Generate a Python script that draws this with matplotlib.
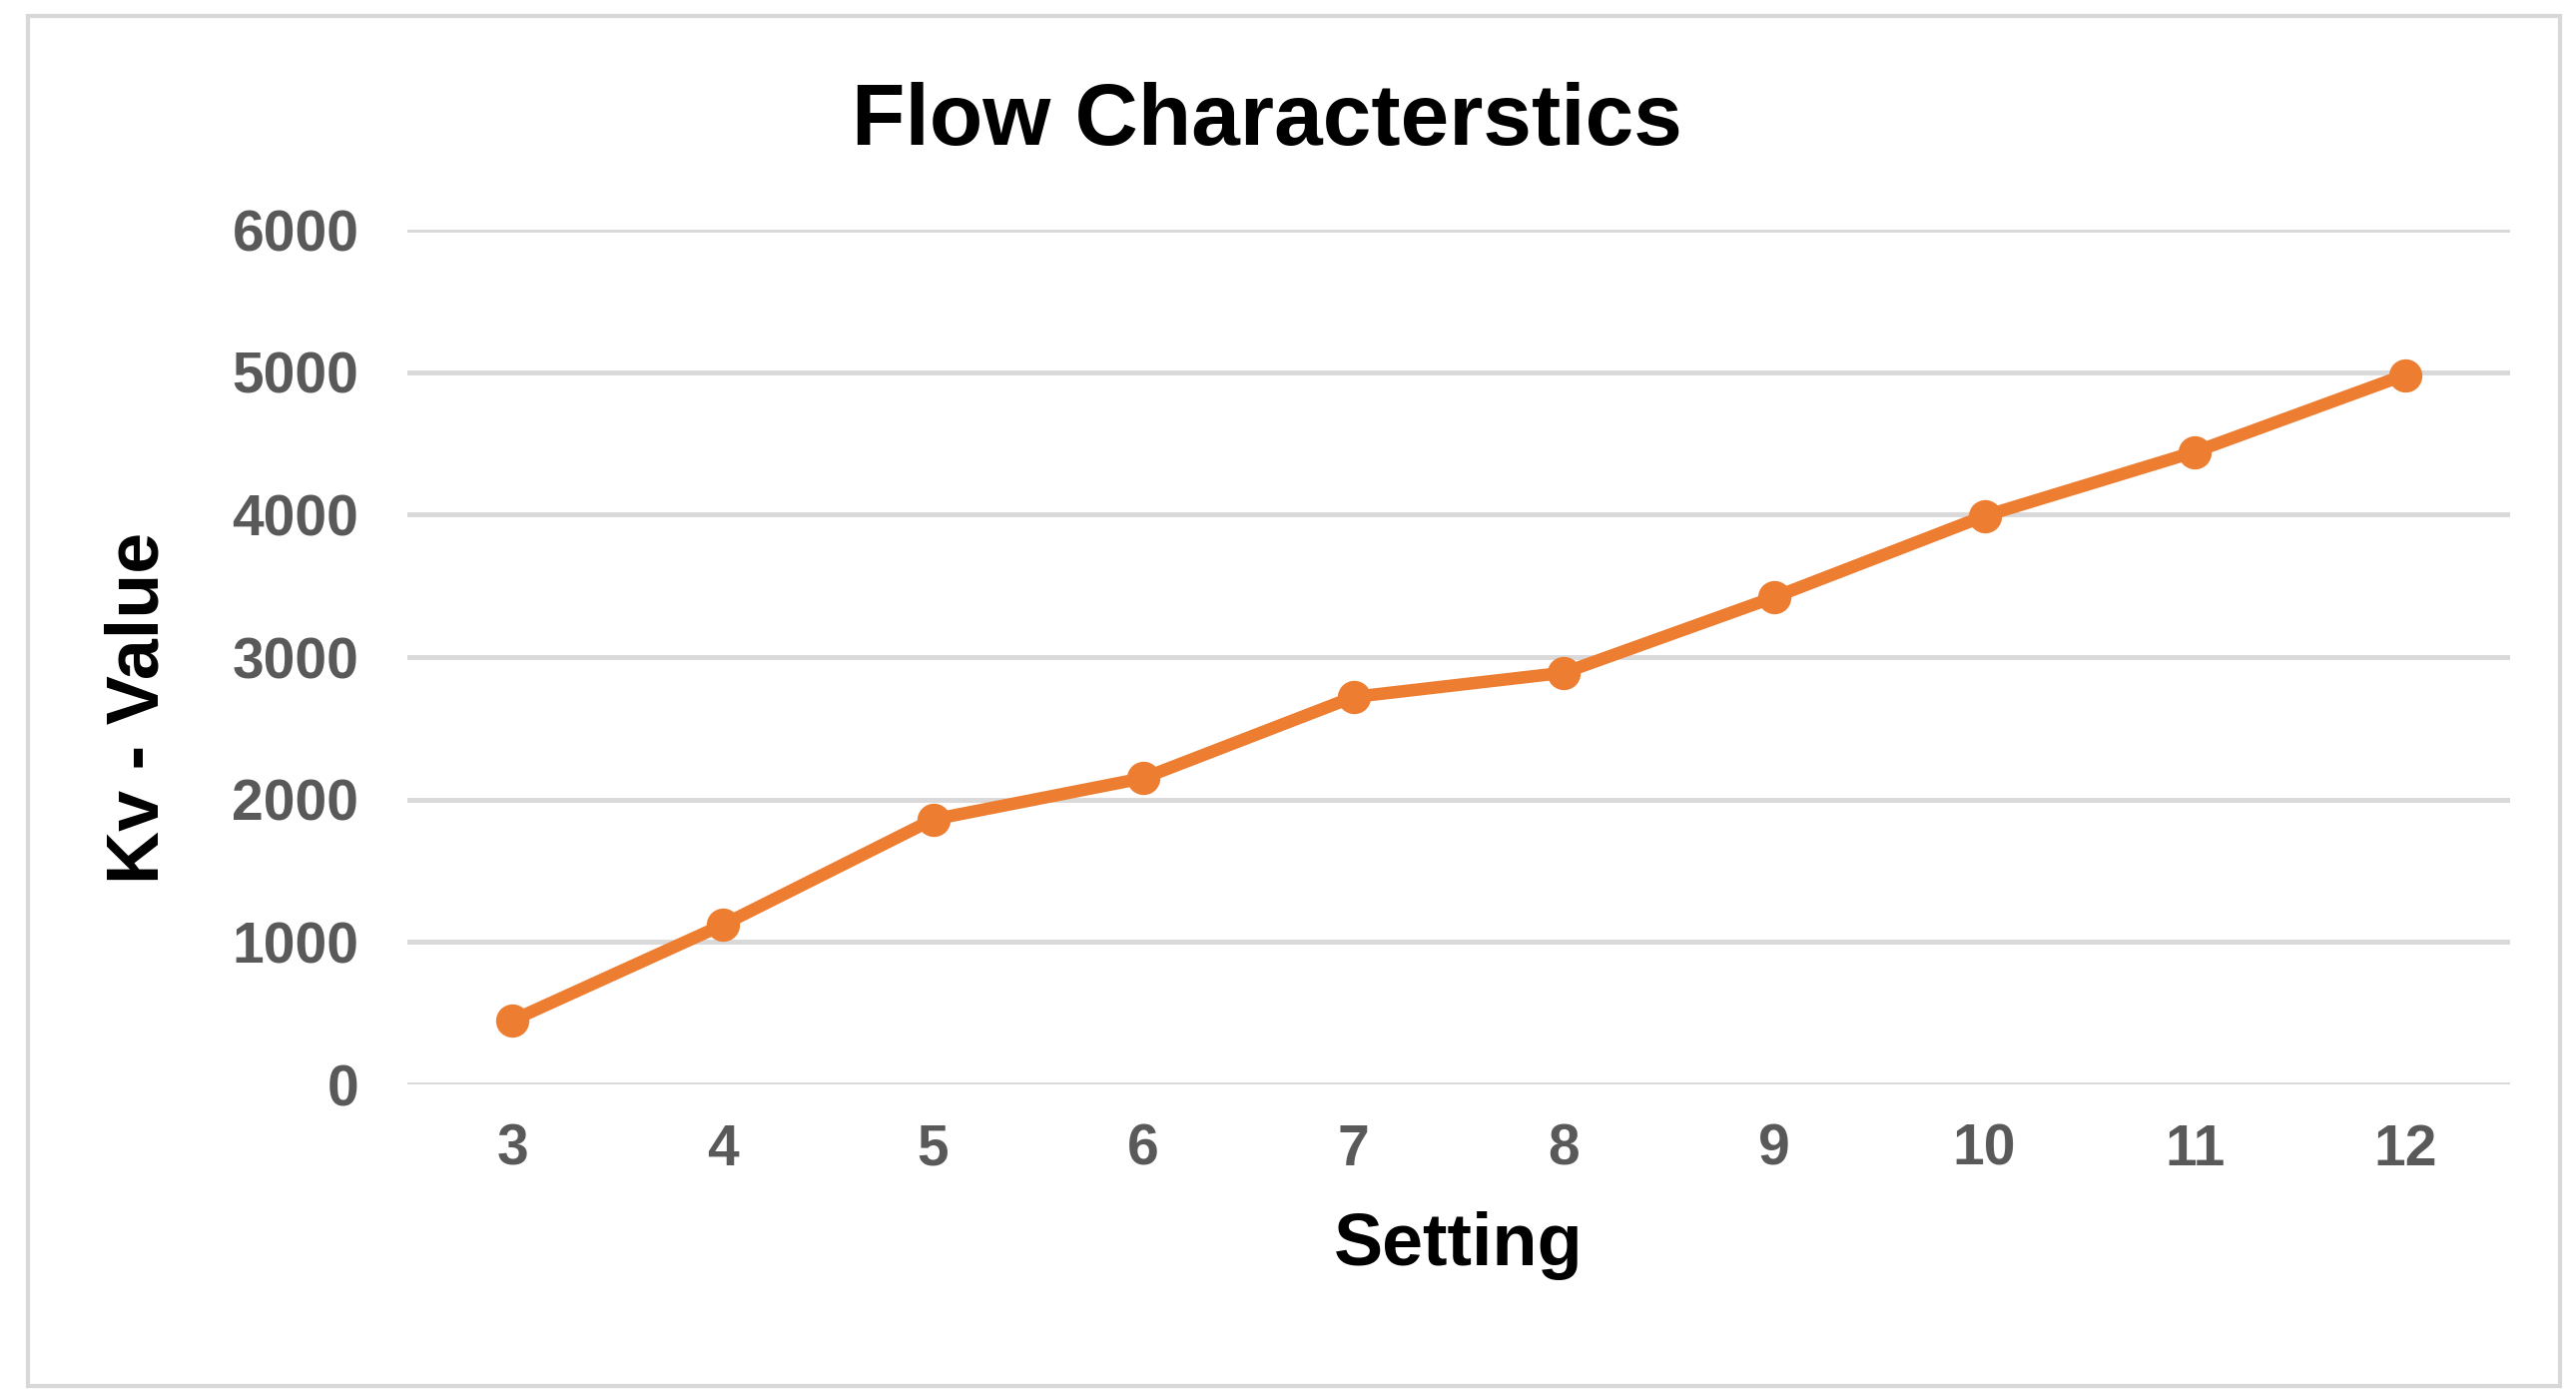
import matplotlib
matplotlib.use("Agg")
import matplotlib.pyplot as plt
from matplotlib.patches import Rectangle

settings = ["3", "4", "5", "6", "7", "8", "9", "10", "11", "12"]
kv_values = [450, 1120, 1860, 2150, 2720, 2890, 3420, 3990, 4440, 4980]
y_ticks = [0, 1000, 2000, 3000, 4000, 5000, 6000]

plt.rcParams['font.family'] = ['Liberation Sans', 'DejaVu Sans']

W, H = 2580, 1391
fig = plt.figure(figsize=(W / 100, H / 100), dpi=100)
fig.patch.set_facecolor("white")

# outer chart border
fig.patches.append(Rectangle((28 / W, 1 - 1388 / H), (2564 - 28) / W, (1388 - 16) / H,
                             transform=fig.transFigure, fill=False,
                             edgecolor="#D8D8D8", linewidth=3))

left, right = 408 / W, 2514 / W
bottom, top = 1 - 1086 / H, 1 - 230 / H
ax = fig.add_axes([left, bottom, right - left, top - bottom])

x = list(range(len(settings)))
ax.plot(x, kv_values, color="#ED7D31", linewidth=9, marker="o", markersize=23,
        solid_capstyle="round", zorder=3, clip_on=False)

ax.set_xlim(-0.5, len(settings) - 0.5)
ax.set_ylim(0, 6000)
ax.set_yticks(y_ticks)
ax.set_xticks(x)
ax.set_xticklabels(settings)
ax.yaxis.grid(True, color="#D9D9D9", linewidth=3.5)
ax.set_axisbelow(True)
for s in ax.spines.values():
    s.set_visible(False)
ax.tick_params(axis="both", length=0, labelsize=41, labelcolor="#595959")
ax.tick_params(axis="y", pad=35)
ax.tick_params(axis="x", pad=28)
for lab in ax.get_xticklabels() + ax.get_yticklabels():
    lab.set_fontweight("bold")

fig.text(0.492, 0.912, "Flow Characterstics", ha="center", va="center",
         fontsize=63, fontweight="bold", color="black")
fig.text(0.566, 0.1035, "Setting", ha="center", va="center",
         fontsize=53, fontweight="bold", color="black")
fig.text(0.054, 0.49, "Kv - Value", ha="center", va="center", rotation=90,
         fontsize=53, fontweight="bold", color="black")

fig.savefig("out.png", dpi=100, facecolor="white")
